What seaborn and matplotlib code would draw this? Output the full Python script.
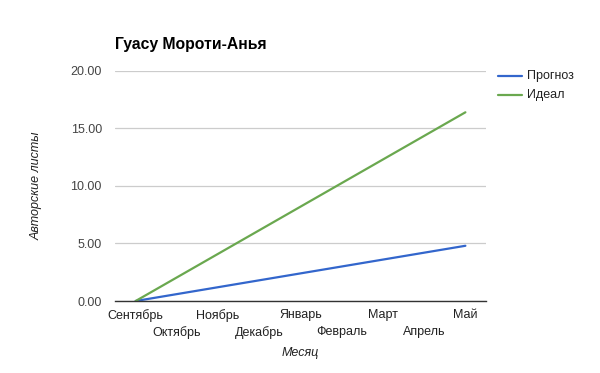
import matplotlib
matplotlib.use('Agg')
import matplotlib.pyplot as plt
import numpy as np
import pandas as pd
import seaborn as sns

months = ['Сентябрь', 'Октябрь', 'Ноябрь', 'Декабрь', 'Январь',
          'Февраль', 'Март', 'Апрель', 'Май']
forecast = [0.0, 0.6, 1.2, 1.8, 2.4, 3.0, 3.6, 4.2, 4.8]
ideal = [0.0, 2.05, 4.1, 6.15, 8.2, 10.25, 12.3, 14.35, 16.4]
series_names = ['Прогноз', 'Идеал']
y_ticks = [0, 5, 10, 15, 20]

sns.set_style('white')
plt.rcParams['font.family'] = ['Liberation Sans', 'DejaVu Sans']

df = pd.DataFrame({
    'pos': list(range(len(months))) * 2,
    'value': forecast + ideal,
    'series': [series_names[0]] * len(months) + [series_names[1]] * len(months),
})

fig = plt.figure(figsize=(6, 3.73), dpi=100)
ax = fig.add_axes([0.1917, 0.193, 0.6183, 0.617])

sns.lineplot(data=df, x='pos', y='value', hue='series', ax=ax,
             palette=['#3366CC', '#6AA84F'], linewidth=1.6, legend=False)

ax.set_xlim(-0.5, len(months) - 0.5)
ax.set_ylim(0, 20)
ax.set_yticks(y_ticks)
ax.set_yticklabels(['{:.2f}'.format(v) for v in y_ticks], fontsize=9, color='#444444')
ax.yaxis.grid(True, color='#cccccc', linewidth=0.9)
ax.set_axisbelow(True)

# staggered month labels: even ones on the major ticks, odd ones on minor ticks lower down
even = list(range(0, len(months), 2))
odd = list(range(1, len(months), 2))
ax.set_xticks(even)
ax.set_xticklabels([months[i] for i in even], fontsize=9, color='#222222')
ax.set_xticks(odd, minor=True)
ax.set_xticklabels([months[i] for i in odd], minor=True, fontsize=9, color='#222222')
ax.tick_params(axis='both', which='both', length=0)
ax.tick_params(axis='x', which='major', pad=6)
ax.tick_params(axis='x', which='minor', pad=18)
ax.tick_params(axis='y', pad=9.5)

for s in ['top', 'right', 'left']:
    ax.spines[s].set_visible(False)
ax.spines['bottom'].set_color('#333333')
ax.spines['bottom'].set_linewidth(1.0)

ax.set_xlabel('Месяц', fontsize=9, style='italic', color='#222222')
ax.xaxis.set_label_coords(0.5, -(347 - 301) / 230)
ax.set_ylabel('Авторские листы', fontsize=9, style='italic', color='#222222')
ax.yaxis.set_label_coords(-(115 - 43) / 371, 0.5)

fig.text(115 / 600, 1 - 45 / 373, 'Гуасу Мороти-Анья', fontsize=11.3,
         fontweight='bold', ha='left', va='center', color='#000000')

# legend drawn by hand in figure coords
for i, (name, col) in enumerate(zip(series_names, ['#3366CC', '#6AA84F'])):
    yy = 1 - (76 + 19 * i) / 373
    fig.add_artist(plt.Line2D([498 / 600, 522 / 600], [yy, yy], color=col, linewidth=1.6))
    fig.text(527 / 600, yy, name, fontsize=9, va='center', ha='left', color='#222222')

fig.savefig('out.png', dpi=100)
